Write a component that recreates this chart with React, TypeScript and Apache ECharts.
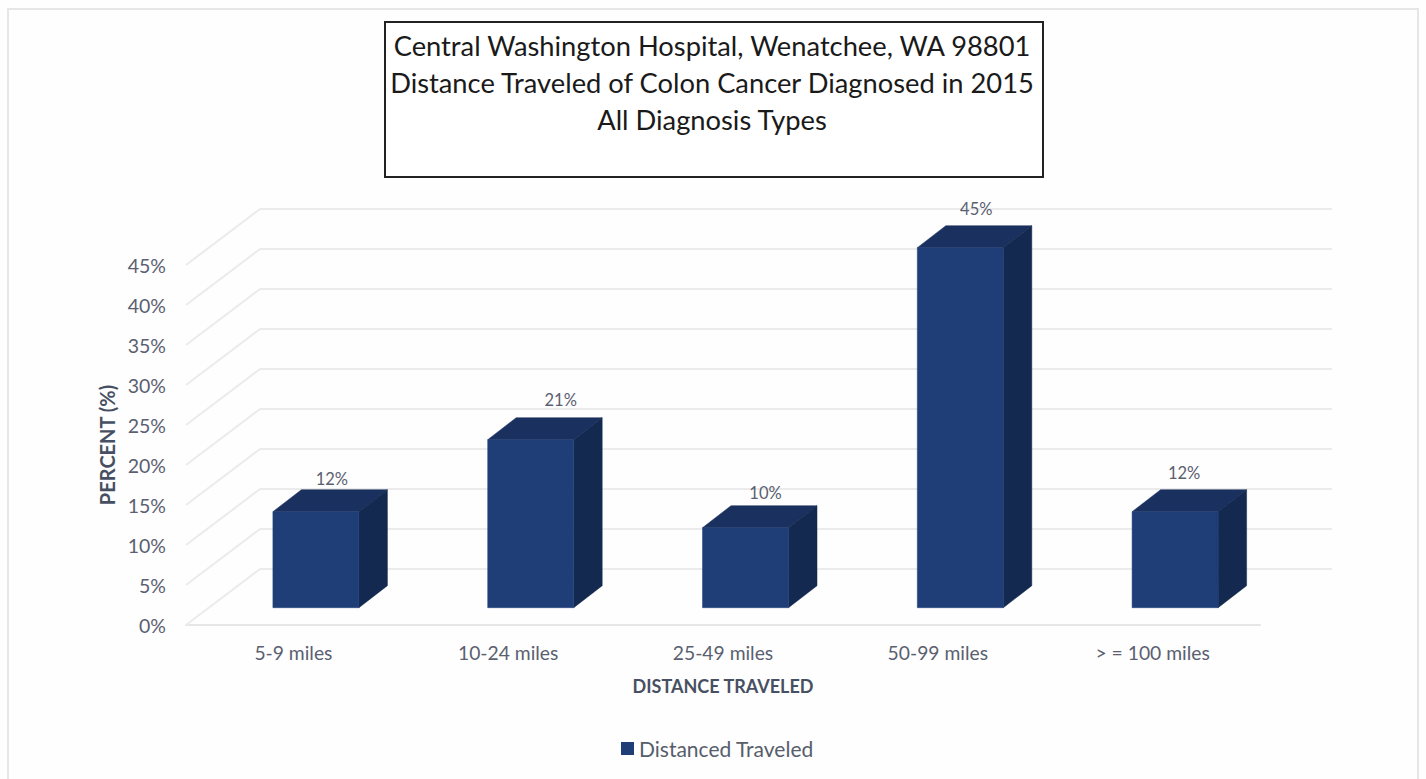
import React, { useEffect, useRef } from "react";
import * as echarts from "echarts";

const titleLines = [
  "Central Washington Hospital, Wenatchee, WA 98801",
  "Distance Traveled of Colon Cancer Diagnosed in 2015",
  "All Diagnosis Types",
];
const categories = ["5-9 miles", "10-24 miles", "25-49 miles", "50-99 miles", "> = 100 miles"];
const percentValues = [12, 21, 10, 45, 12];
const tickValues = [0, 5, 10, 15, 20, 25, 30, 35, 40, 45];
const seriesName = "Distanced Traveled";
const yAxisTitle = "PERCENT (%)";
const xAxisTitle = "DISTANCE TRAVELED";

// hand-placed label nudges of the original, relative to the bar's back top edge
const labelNudgeX = [16, 30, 20, 16, 9];
const labelNudgeY = [-11, -18, -13, -17, -17];

const FONT = "Lato, 'Open Sans', sans-serif";
const WALL_DX = 74;
const WALL_DY = -56;
const BAR_OFF_X = 22.5;
const BAR_OFF_Y = -17.3;
const BAR_W = 86;
const DEPTH_X = 28.5;
const DEPTH_Y = -22;

export default function App() {
  const ref = useRef<HTMLDivElement>(null);
  useEffect(() => {
    const chart = echarts.init(ref.current!, undefined, { renderer: "svg" });
    chart.setOption({
      animation: false,
      backgroundColor: "#fefefe",
      title: {
        text: titleLines.join("\n"),
        left: 712,
        top: 27,
        textAlign: "center",
        padding: 0,
        textStyle: {
          fontFamily: FONT,
          fontWeight: "normal",
          fontSize: 27.3,
          lineHeight: 37,
          color: "#1a1a1a",
        },
        z: 10,
      },
      graphic: [
        {
          type: "rect",
          z: -1,
          silent: true,
          shape: { x: 8, y: 9, width: 1410, height: 800 },
          style: { fill: "none", stroke: "#e6e6e6", lineWidth: 2 },
        },
        {
          type: "rect",
          z: 5,
          silent: true,
          shape: { x: 385, y: 22, width: 658, height: 155 },
          style: { fill: "#ffffff", stroke: "#222222", lineWidth: 2 },
        },
      ],
      legend: {
        data: [{ name: seriesName, icon: "rect" }],
        left: 621,
        top: 738,
        padding: 0,
        itemWidth: 13,
        itemHeight: 13,
        itemGap: 6,
        textStyle: { fontFamily: FONT, fontSize: 21, color: "#565d6b" },
      },
      grid: { left: 186, right: 166, top: 265, bottom: 154 },
      xAxis: {
        type: "category",
        data: categories,
        name: xAxisTitle,
        nameLocation: "middle",
        nameGap: 52,
        nameTextStyle: { fontFamily: FONT, fontSize: 18, fontWeight: "bold", color: "#475062" },
        axisLine: { show: true, lineStyle: { color: "#e6e6e6", width: 2 } },
        axisTick: { show: false },
        axisLabel: { fontFamily: FONT, fontSize: 19.3, color: "#5a6070", margin: 18 },
        splitLine: { show: false },
      },
      yAxis: {
        type: "value",
        min: 0,
        max: 45,
        interval: 5,
        name: yAxisTitle,
        nameLocation: "middle",
        nameGap: 68,
        nameTextStyle: { fontFamily: FONT, fontSize: 20, fontWeight: "bold", color: "#475062" },
        axisLine: { show: false },
        axisTick: { show: false },
        splitLine: { show: false },
        axisLabel: {
          fontFamily: FONT,
          fontSize: 19.5,
          color: "#5a6070",
          margin: 20,
          padding: [0, 0, 3, 0],
          formatter: (v: number) => v + "%",
        },
      },
      series: [
        {
          name: "walls",
          type: "custom",
          z: 1,
          silent: true,
          data: tickValues.map((v) => [0, v]),
          encode: { x: 0, y: 1 },
          renderItem: (params: any, api: any) => {
            const cs = params.coordSys;
            const y = api.coord([0, api.value(1)])[1];
            return {
              type: "polyline",
              shape: {
                points: [
                  [cs.x, y],
                  [cs.x + WALL_DX, y + WALL_DY],
                  [cs.x + cs.width + WALL_DX - 2, y + WALL_DY],
                ],
              },
              style: { fill: "none", stroke: "#ebebeb", lineWidth: 2 },
            };
          },
        },
        {
          name: seriesName,
          type: "custom",
          z: 2,
          silent: true,
          itemStyle: { color: "#1f3e78" },
          data: percentValues.map((v, i) => [i, v]),
          encode: { x: 0, y: 1 },
          renderItem: (params: any, api: any) => {
            const i = api.value(0);
            const v = api.value(1);
            const top = api.coord([i, v]);
            const base = api.coord([i, 0]);
            const cx = top[0] + BAR_OFF_X;
            const l = cx - BAR_W / 2;
            const r = cx + BAR_W / 2;
            const t = top[1] + BAR_OFF_Y;
            const b = base[1] + BAR_OFF_Y;
            return {
              type: "group",
              children: [
                {
                  type: "polygon",
                  shape: {
                    points: [
                      [l, t],
                      [l + DEPTH_X, t + DEPTH_Y],
                      [r + DEPTH_X, t + DEPTH_Y],
                      [r, t],
                    ],
                  },
                  style: { fill: "#1a305f", stroke: "#1a305f", lineWidth: 0.5 },
                },
                {
                  type: "polygon",
                  shape: {
                    points: [
                      [r, t],
                      [r + DEPTH_X, t + DEPTH_Y],
                      [r + DEPTH_X, b + DEPTH_Y],
                      [r, b],
                    ],
                  },
                  style: { fill: "#13294f", stroke: "#13294f", lineWidth: 0.5 },
                },
                {
                  type: "rect",
                  shape: { x: l, y: t, width: BAR_W, height: b - t },
                  style: { fill: "#1f3e78", stroke: "#1f3e78", lineWidth: 0.5 },
                },
                {
                  type: "text",
                  style: {
                    text: v + "%",
                    x: cx + labelNudgeX[i],
                    y: t + DEPTH_Y + labelNudgeY[i],
                    textAlign: "center",
                    textVerticalAlign: "middle",
                    fontFamily: FONT,
                    fontSize: 16.5,
                    fill: "#5a6070",
                  },
                },
              ],
            };
          },
        },
      ],
    });
    return () => chart.dispose();
  }, []);
  return <div ref={ref} style={{ position: "absolute", left: 0, top: 0, width: 1426, height: 779 }} />;
}
